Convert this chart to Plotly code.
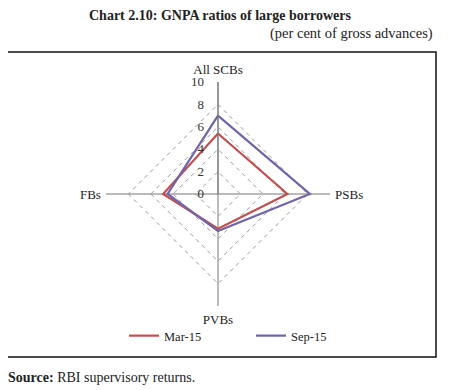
import plotly.graph_objects as go

categories = ["All SCBs", "PSBs", "PVBs", "FBs"]
mar15 = [5.4, 6.2, 3.1, 4.9]
sep15 = [7.0, 8.2, 3.3, 4.5]
radial_ticks = [0, 2, 4, 6, 8, 10]

# page body has an 8px margin; work in window pixels and convert
OFF = 8
W, H = 454 - OFF, 390 - OFF
def px(x): return (x - OFF) / W
def py(y): return 1 - (y - OFF) / H

cx, cy, R = 218, 194, 112

fig = go.Figure()
fig.add_trace(go.Scatterpolar(r=mar15 + mar15[:1], theta=categories + categories[:1],
                              mode="lines", name="Mar-15",
                              line=dict(color="#C0504D", width=2.2)))
fig.add_trace(go.Scatterpolar(r=sep15 + sep15[:1], theta=categories + categories[:1],
                              mode="lines", name="Sep-15",
                              line=dict(color="#7262AA", width=2.2)))

serif = "Liberation Serif"
fig.update_layout(
    width=W, height=H,
    margin=dict(l=0, r=0, t=0, b=0, autoexpand=False),
    paper_bgcolor="white",
    font=dict(family=serif, size=12, color="#222"),
    polar=dict(
        domain=dict(x=[px(cx - R), px(cx + R)], y=[py(cy + R), py(cy - R)]),
        bgcolor="white",
        gridshape="linear",
        radialaxis=dict(range=[0, 10], tickvals=radial_ticks, ticktext=[str(v) for v in radial_ticks],
                        angle=90, tickangle=90, side="counterclockwise",
                        showline=True, linecolor="#777", linewidth=1,
                        gridcolor="#999999", griddash="4px,4px", gridwidth=1.3,
                        ticks="outside", ticklen=9, tickcolor="rgba(0,0,0,0)",
                        tickfont=dict(family=serif, size=13, color="#333")),
        angularaxis=dict(rotation=90, direction="clockwise", showline=False,
                         gridcolor="#777", gridwidth=1,
                         ticks="outside", ticklen=2, tickcolor="rgba(0,0,0,0)",
                         tickfont=dict(family=serif, size=13, color="#222")),
    ),
    showlegend=True,
    legend=dict(orientation="h", x=px(124), y=py(336), yanchor="middle", xanchor="left",
                entrywidth=82, entrywidthmode="pixels",
                font=dict(family=serif, size=12.5, color="#222"), bgcolor="rgba(0,0,0,0)"),
)

fig.add_shape(type="rect", xref="paper", yref="paper",
              x0=px(7), x1=px(436), y0=py(357), y1=py(52),
              line=dict(color="#111", width=1.5))

fig.add_annotation(text="<b>Chart 2.10: GNPA ratios of large borrowers</b>",
                   xref="paper", yref="paper", x=px(220), y=py(15),
                   xanchor="center", yanchor="middle", showarrow=False,
                   font=dict(family=serif, size=14, color="#222"))
fig.add_annotation(text="(per cent of gross advances)",
                   xref="paper", yref="paper", x=px(435), y=py(33),
                   xanchor="right", yanchor="middle", showarrow=False,
                   font=dict(family=serif, size=14.5, color="#222"))
fig.add_annotation(text="<b>Source:</b> RBI supervisory returns.",
                   xref="paper", yref="paper", x=px(6), y=py(377),
                   xanchor="left", yanchor="middle", showarrow=False,
                   font=dict(family=serif, size=14, color="#222"))

fig.write_html("out.html")
